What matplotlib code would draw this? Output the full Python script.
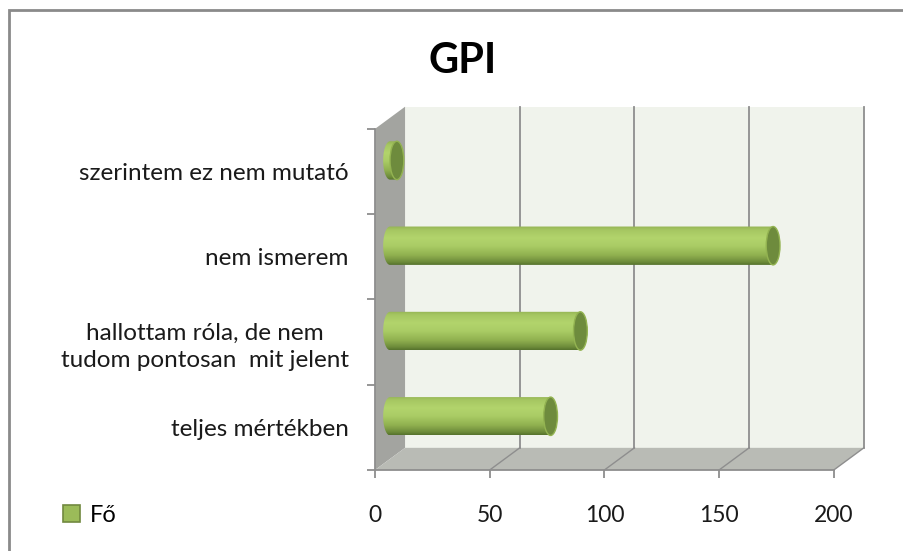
import numpy as np
import matplotlib.pyplot as plt
from matplotlib.patches import Polygon, Ellipse, PathPatch, Rectangle, Patch
from matplotlib.path import Path
from matplotlib.colors import LinearSegmentedColormap

plt.rcParams['font.family'] = ['Lato', 'DejaVu Sans']

# adatok
categories = ['teljes mértékben',
              'hallottam róla, de nem\ntudom pontosan  mit jelent',
              'nem ismerem',
              'szerintem ez nem mutató']
values = [70, 83, 167, 3]
xticks = [0, 50, 100, 150, 200]
title = 'GPI'
series_name = 'Fő'

xmax = 200
dx = 13.1    # mélység x irányban (adategység)
dy = 0.26    # mélység y irányban (kategória egység)
bar_h = 0.45
cap_w = 6.0

fig = plt.figure(figsize=(9.04, 5.51), dpi=100)
ax = fig.add_axes([375/904, 1 - 470/551, 490/904, 365/551])
ax.set_facecolor('none')

n = len(categories)

# falak
back = Polygon([(dx, dy), (xmax+dx, dy), (xmax+dx, n+dy), (dx, n+dy)],
               closed=True, fc='#F0F3EC', ec='none', zorder=0)
left = Polygon([(0, 0), (dx, dy), (dx, n+dy), (0, n)],
               closed=True, fc='#A3A4A0', ec='none', zorder=0.5)
floor = Polygon([(0, 0), (xmax, 0), (xmax+dx, dy), (dx, dy)],
                closed=True, fc='#B9BBB5', ec='none', zorder=0.5)
for p in (back, left, floor):
    ax.add_patch(p)

# rácsvonalak
for t in xticks[1:]:
    ax.plot([t+dx, t+dx], [dy, n+dy], color='#8E8E8E', lw=1.3, zorder=1)
    ax.plot([t, t+dx], [0, dy], color='#8E8E8E', lw=1.0, zorder=1)

# henger színátmenet
cmap = LinearSegmentedColormap.from_list('cyl', [
    (0.0, '#55722C'), (0.08, '#6E8C3B'), (0.25, '#90B04F'),
    (0.5, '#ABCD66'), (0.7, '#B2D46C'), (0.9, '#A6C762'), (1.0, '#94B453')])
grad = np.linspace(0, 1, 256).reshape(-1, 1)

for i, v in enumerate(values):
    yc = i + 0.5 + dy / 2
    x0 = dx / 2
    x1 = x0 + v
    yb, yt = yc - bar_h / 2, yc + bar_h / 2
    th = np.linspace(np.pi / 2, 3 * np.pi / 2, 40)
    arc = np.column_stack([x0 + cap_w / 2 * np.cos(th), yc + bar_h / 2 * np.sin(th)])
    verts = np.vstack([[[x1, yt]], arc, [[x1, yb]], [[x1, yt]]])
    codes = [Path.MOVETO] + [Path.LINETO] * (len(verts) - 2) + [Path.CLOSEPOLY]
    shape = PathPatch(Path(verts, codes), fc='none', ec='none', zorder=3)
    ax.add_patch(shape)
    im = ax.imshow(grad, extent=[x0 - cap_w / 2, x1, yb, yt], origin='lower',
                   aspect='auto', cmap=cmap, zorder=3, interpolation='bilinear')
    im.set_clip_path(shape)
    ax.add_patch(Ellipse((x1, yc), cap_w, bar_h, fc='#6E8B3D', ec='#93B351',
                         lw=1, zorder=4))

ax.set_xlim(0, xmax + dx + 0.5)
ax.set_ylim(0, n + 0.28)

# tengelyek
for s in ('top', 'right'):
    ax.spines[s].set_visible(False)
ax.spines['bottom'].set_bounds(0, xmax)
ax.spines['left'].set_bounds(0, n)
ax.spines['bottom'].set_color('#8E8E8E')
ax.spines['left'].set_color('#8E8E8E')
ax.spines['bottom'].set_linewidth(1.3)
ax.spines['left'].set_linewidth(1.3)

ax.set_xticks(xticks)
ax.set_xticklabels([str(t) for t in xticks], fontsize=16.5, color='#1a1a1a')
ax.tick_params(axis='x', length=6, color='#8E8E8E', width=1.3, pad=19)

ax.set_yticks(range(n + 1))
ax.set_yticklabels([])
ax.set_yticks([i + 0.5 for i in range(n)], minor=True)
ax.set_yticklabels(categories, minor=True, fontsize=17.5, color='#1a1a1a')
ax.tick_params(axis='y', which='major', length=6, color='#8E8E8E', width=1.3)
ax.tick_params(axis='y', which='minor', length=0, pad=19)
for lab in ax.get_yticklabels(minor=True):
    lab.set_multialignment('center')
    lab.set_linespacing(1.35)

fig.text(463/904, 1 - 61/551, title, ha='center', va='center',
         fontsize=30, fontweight='bold', color='black')

fig.legend(handles=[Patch(fc='#9BBB59', ec='#71893F', lw=1.2, label=series_name)],
           loc='center left', bbox_to_anchor=(63/904, 1 - 515/551), frameon=False,
           handlelength=0.72, handleheight=0.72, handletextpad=0.4,
           borderpad=0, borderaxespad=0, fontsize=17)

# diagram keret
fig.patches.append(Rectangle((9/904, -0.2), 1.2, 1 - 10/551 + 0.2,
                             transform=fig.transFigure, fill=False,
                             ec='#8A8A8A', lw=2, clip_on=False))

fig.savefig('out.png', dpi=100)
